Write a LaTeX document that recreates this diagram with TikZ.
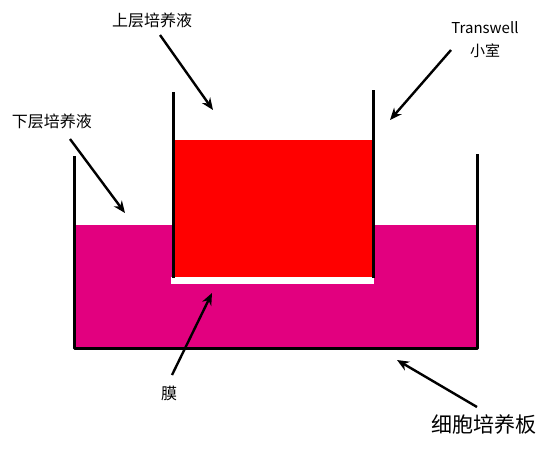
\documentclass[tikz,border=0pt]{standalone}
\usepackage{fontspec}
\setmainfont{Noto Sans CJK SC}
\usetikzlibrary{arrows.meta}
\usetikzlibrary{positioning}
\definecolor{lowermedium}{RGB}{226,0,127}
\definecolor{uppermedium}{RGB}{255,0,0}

\begin{document}
\begin{tikzpicture}[line cap=round,line join=round,>={Stealth[length=12pt,width=10pt]},x=1pt,y=-1pt,
  wall/.style={line width=3pt,line cap=butt},
  pointer/.style={->,line width=2.4pt,line cap=butt},
  label/.style={font=\fontsize{16}{19}\selectfont,inner sep=1pt}]
\useasboundingbox (0,0) rectangle (554,448);
% media
\fill [color=lowermedium] (74,225) rectangle (477,348);
\fill [color=uppermedium] (173,140) rectangle (373,277);
\fill [color=white] (171,277) rectangle (374,284);
% culture plate and insert
\draw [wall] (74,156) -- (74,348) -- (477,348) -- (477,154);
\draw [wall] (173,92) -- (173,278);
\draw [wall] (373,90) -- (373,278);
% labels
\node[label] (upper) at (152,20) {上层培养液};
\node[label] (lower) at (52,121) {下层培养液};
\node[label,align=center,font=\fontsize{15}{23}\selectfont] (insert) at (485,40) {Transwell\\小室};
\node[label] (membrane) at (169,393) {膜};
\node[label,font=\fontsize{21}{25}\selectfont] (plate) at (484,424) {细胞培养板};
% arrows
\coordinate (upperstart) at (160,35);
\coordinate (uppertip) at (213,110);
\coordinate (lowerstart) at (70,139);
\coordinate (lowertip) at (125,213);
\coordinate (insertstart) at (451,50);
\coordinate (inserttip) at (390,120);
\coordinate (membranestart) at (172,375);
\coordinate (membranetip) at (212,293);
\coordinate (platestart) at (477,407);
\coordinate (platetip) at (397,360);
\draw [pointer] (upperstart) -- (uppertip);
\draw [pointer] (lowerstart) -- (lowertip);
\draw [pointer] (insertstart) -- (inserttip);
\draw [pointer] (membranestart) -- (membranetip);
\draw [pointer] (platestart) -- (platetip);
\end{tikzpicture}
\end{document}
